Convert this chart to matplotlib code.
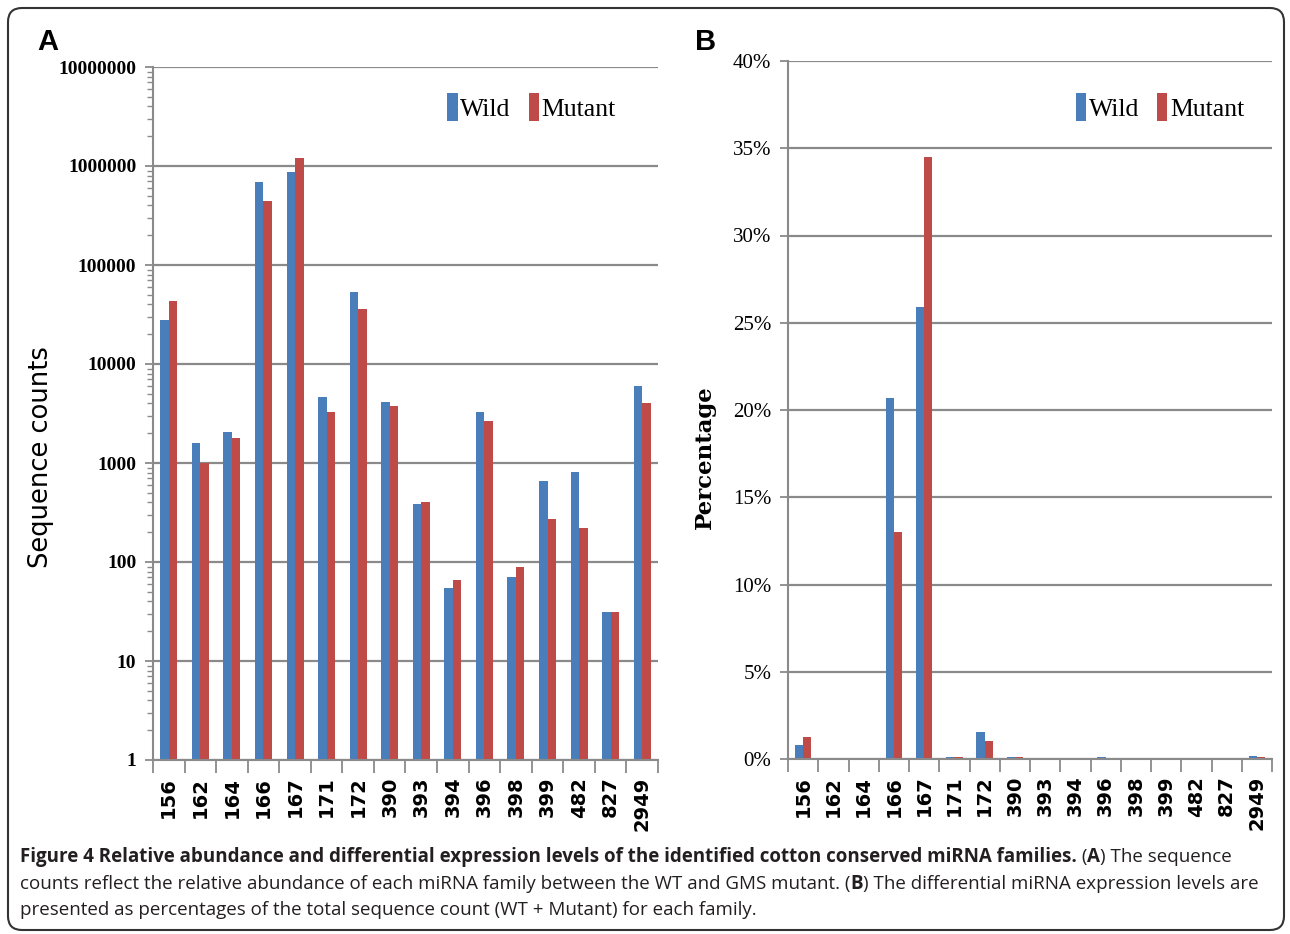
import matplotlib
matplotlib.use("Agg")
import matplotlib.pyplot as plt
import numpy as np
from matplotlib.patches import FancyBboxPatch
from matplotlib.ticker import FixedLocator, LogLocator, NullFormatter, FuncFormatter

# miRNA families and counts
families = ["156", "162", "164", "166", "167", "171", "172", "390",
            "393", "394", "396", "398", "399", "482", "827", "2949"]
wild_counts = [27800, 1590, 2050, 690000, 870000, 4650, 53000, 4100,
               385, 55, 3250, 70, 660, 810, 31, 6000]
mutant_counts = [43000, 1000, 1780, 445000, 1200000, 3250, 36000, 3800,
                 400, 66, 2650, 89, 270, 220, 31, 4000]

# share of the total sequence count, in percent
wild_pct = [0.80, 0.05, 0.06, 20.7, 25.9, 0.13, 1.55, 0.12,
            0.01, 0.002, 0.09, 0.002, 0.02, 0.02, 0.001, 0.17]
mutant_pct = [1.25, 0.03, 0.05, 13.0, 34.5, 0.09, 1.05, 0.11,
              0.01, 0.002, 0.08, 0.003, 0.01, 0.01, 0.001, 0.11]

series_names = ["Wild", "Mutant"]
blue = "#4A7EBB"
red = "#BE4B48"
grid_col = "#8A8A8A"

W, H = 1290, 934
fig = plt.figure(figsize=(W / 100, H / 100), dpi=100, facecolor="white")

def px_axes(l, t, r, b):
    return fig.add_axes([l / W, 1 - b / H, (r - l) / W, (b - t) / H])

axA = px_axes(153, 67, 658, 760)
axB = px_axes(788, 61, 1272, 759)

x = np.arange(len(families))
bw = 0.27

def style_axes(ax):
    for s in ("top", "right"):
        ax.spines[s].set_visible(False)
    for s in ("left", "bottom"):
        ax.spines[s].set_color(grid_col)
        ax.spines[s].set_linewidth(1.5)
    ax.set_axisbelow(True)
    ax.yaxis.grid(True, which="major", color=grid_col, lw=1.6)
    ax.set_xlim(-0.5, len(families) - 0.5)
    ax.set_xticks(x)
    ax.set_xticklabels(families, rotation=90, fontsize=14,
                       fontweight="bold", family="DejaVu Sans")
    ax.xaxis.set_minor_locator(FixedLocator(np.arange(-0.5, len(families), 1.0)))
    ax.tick_params(axis="x", which="major", length=0, pad=12)
    ax.tick_params(axis="x", which="minor", length=9, width=1.3,
                   color=grid_col, direction="out")
    ax.tick_params(axis="y", which="major", length=6, width=1.3,
                   color=grid_col, direction="out", pad=6)

# panel A: log-scaled counts
axA.bar(x - bw / 2, wild_counts, bw, color=blue, label=series_names[0])
axA.bar(x + bw / 2, mutant_counts, bw, color=red, label=series_names[1])
axA.set_yscale("log")
axA.set_ylim(1, 1e7)
style_axes(axA)
axA.yaxis.set_major_locator(FixedLocator([10 ** k for k in range(8)]))
axA.yaxis.set_major_formatter(FuncFormatter(lambda v, p: f"{int(round(v))}"))
axA.yaxis.set_minor_locator(LogLocator(base=10, subs=np.arange(2, 10)))
axA.yaxis.set_minor_formatter(NullFormatter())
axA.tick_params(axis="y", which="minor", length=4, width=1,
                color=grid_col, direction="out")
for lab in axA.get_yticklabels():
    lab.set_fontfamily("Liberation Serif")
    lab.set_fontweight("bold")
    lab.set_fontsize(14)
axA.set_ylabel("Sequence counts", fontsize=18.5, family="DejaVu Sans")
axA.yaxis.set_label_coords(-0.196, 0.437)

# panel B: percentages
axB.bar(x - bw / 2, wild_pct, bw, color=blue, label=series_names[0])
axB.bar(x + bw / 2, mutant_pct, bw, color=red, label=series_names[1])
axB.set_ylim(0, 40)
style_axes(axB)
axB.yaxis.set_major_locator(FixedLocator(np.arange(0, 41, 5)))
axB.yaxis.set_major_formatter(FuncFormatter(lambda v, p: f"{int(v)}%"))
for lab in axB.get_yticklabels():
    lab.set_fontfamily("Liberation Serif")
    lab.set_fontsize(15)
axB.set_ylabel("Percentage", fontsize=16.5, family="DejaVu Serif",
               fontweight="bold")
axB.yaxis.set_label_coords(-0.149, 0.433)

for ax, anchor in ((axA, (0.583, 0.942)), (axB, (0.595, 0.934))):
    ax.legend(loc="center left", bbox_to_anchor=anchor, ncol=2, frameon=False,
              handlelength=0.4, handleheight=1.3, handletextpad=0.1,
              columnspacing=0.7, borderpad=0, borderaxespad=0,
              prop={"family": "Liberation Serif", "size": 18.5})

# panel letters
fig.text(37 / W, 1 - 50 / H, "A", fontsize=21, fontweight="bold",
         family="Liberation Sans", va="baseline")
fig.text(695 / W, 1 - 50 / H, "B", fontsize=21, fontweight="bold",
         family="Liberation Sans", va="baseline")

# caption, written as runs of normal/bold text
cap_font = ["Open Sans", "DejaVu Sans"]
cap_lines = [
    [("Figure 4 Relative abundance and differential expression levels of the "
      "identified cotton conserved miRNA families.", "bold"),
     (" (", "normal"), ("A", "bold"), (") The sequence", "normal")],
    [("counts reflect the relative abundance of each miRNA family between the "
      "WT and GMS mutant. (", "normal"), ("B", "bold"),
     (") The differential miRNA expression levels are", "normal")],
    [("presented as percentages of the total sequence count (WT + Mutant) "
      "for each family.", "normal")],
]
cap_y = [862, 889, 915]
cap_left, cap_right = 20, 1264

fig.canvas.draw()
renderer = fig.canvas.get_renderer()

def put_line(runs, yb, size):
    xpos = cap_left
    texts = []
    for s, wgt in runs:
        t = fig.text(xpos / W, 1 - yb / H, s, fontsize=size, fontweight=wgt,
                     family=cap_font, va="baseline", color="#231F20")
        xpos += t.get_window_extent(renderer).width
        texts.append(t)
    return texts, xpos - cap_left

# size the caption so the widest line fits inside the frame
widths = []
for runs, yb in zip(cap_lines[:2], cap_y):
    trial, wd = put_line(runs, yb, 14)
    for t in trial:
        t.remove()
    widths.append(wd)
cap_size = 14 * (cap_right - cap_left) / max(widths)
for runs, yb in zip(cap_lines, cap_y):
    put_line(runs, yb, cap_size)

# rounded frame around the whole figure
frame = FancyBboxPatch((8, 4), W - 14, H - 12,
                       boxstyle="round,pad=0,rounding_size=14",
                       transform=None, fill=False, edgecolor="#333333", lw=1.5)
fig.patches.append(frame)

fig.savefig("out.png", dpi=100, facecolor="white")
